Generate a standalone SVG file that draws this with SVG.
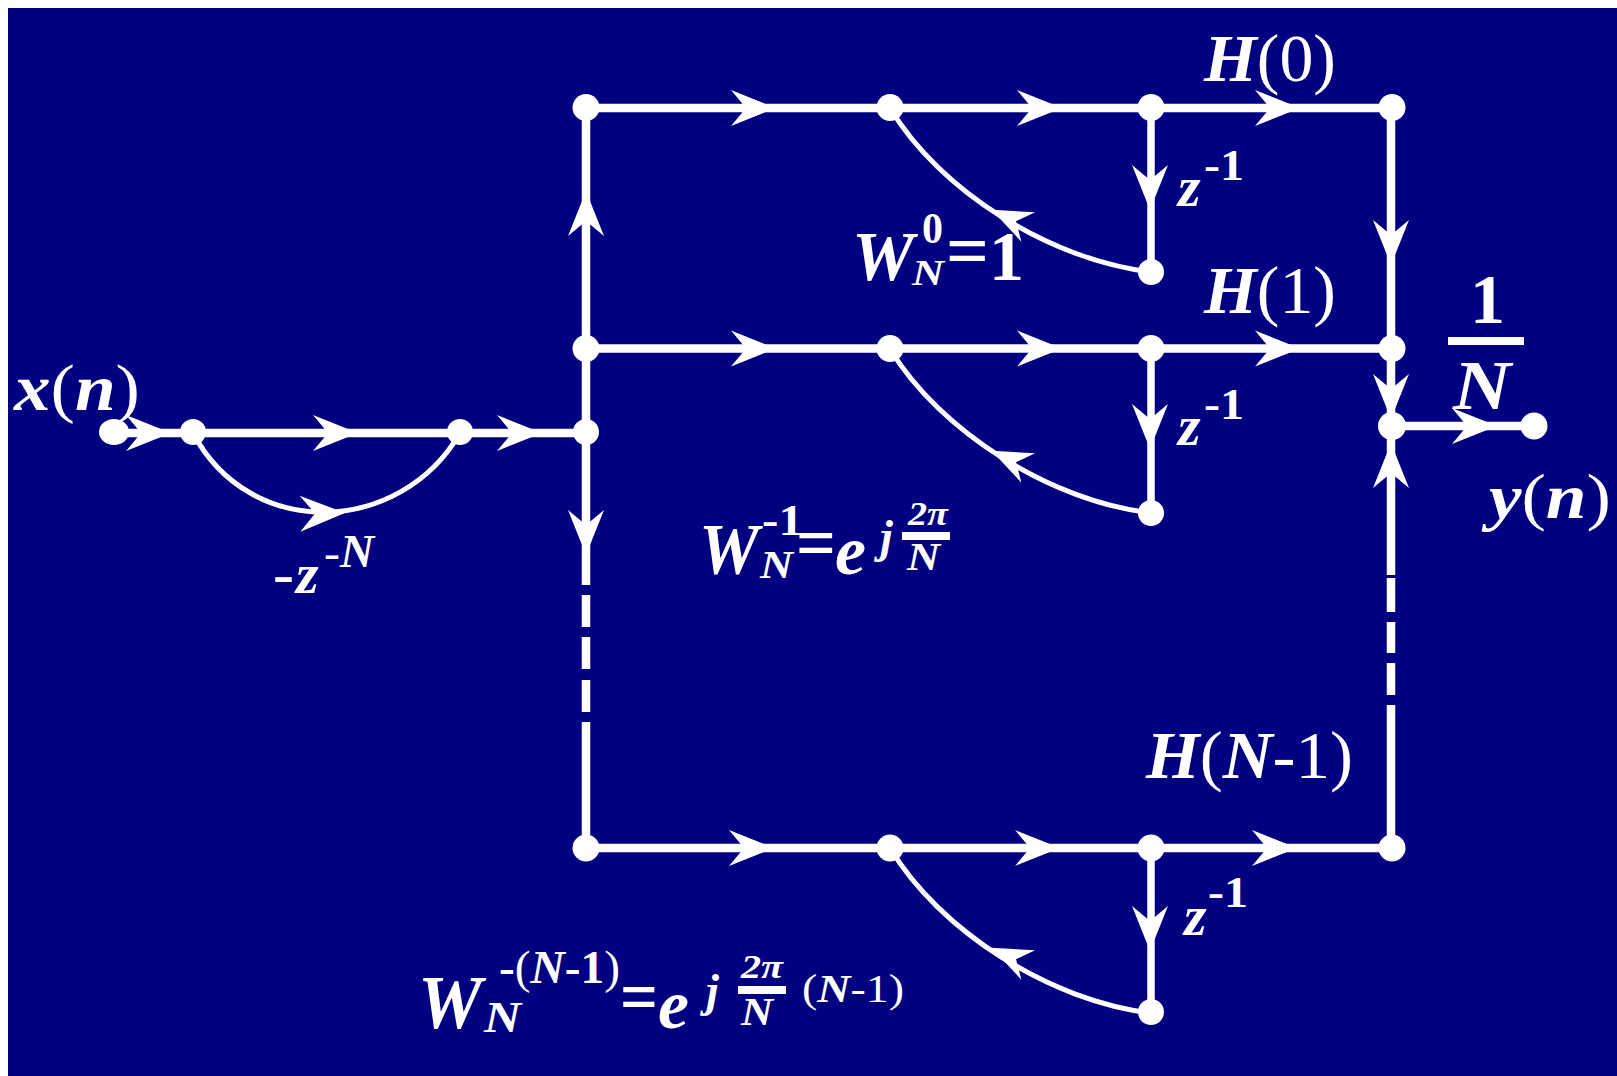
<svg xmlns="http://www.w3.org/2000/svg" width="1617" height="1076" viewBox="0 0 1617 1076">
<style>
.ln{fill:none;stroke:#fff;stroke-width:8.5}
.cv{fill:none;stroke:#fff;stroke-width:5}
.nd{fill:#fff}
text{font-family:"Liberation Serif","Times New Roman",serif;fill:#fff}
.i{font-style:italic;font-weight:bold}
.r{font-style:normal;font-weight:normal}
.b{font-weight:bold}
</style>
<defs>
<path id="ah" fill="#fff" d="M3,0 L-42,-18 L-27,0 L-42,18 Z"/>
</defs>
<rect width="1617" height="1076" fill="#fff"/>
<rect x="8" y="8" width="1609" height="1068" fill="#000080"/>
<g id="connectors">
<path class="ln" d="M111,433H586M586,108V585M586,595V627M586,637V669M586,680V712M586,722V848"/>
<path class="ln" d="M586,108H1392M586,348.500H1392M586,848H1392"/>
<path class="ln" d="M1391,108V575M1391,578V612M1391,622V653M1391,663V695M1391,705V848M1391,426H1534"/>
<path class="ln" style="stroke-width:7.500" d="M1151,108V272M1151,348V512M1151,848V1012"/>
<path class="cv" d="M193,433C250,541 400,536 460,433"/>
<path class="cv" d="M890,108C940,191 1050,260 1151,272M890,349C940,431 1050,501 1151,513M890,848C940,931 1050,1001 1151,1013"/>
<use href="#ah" transform="translate(168,433)"/>
<use href="#ah" transform="translate(355,433)"/>
<use href="#ah" transform="translate(539,433)"/>
<use href="#ah" transform="translate(342,513) rotate(-1)"/>
<use href="#ah" transform="translate(773,108)"/>
<use href="#ah" transform="translate(1059,108)"/>
<use href="#ah" transform="translate(1297,108)"/>
<use href="#ah" transform="translate(773,348.500)"/>
<use href="#ah" transform="translate(1059,348.500)"/>
<use href="#ah" transform="translate(1297,348.500)"/>
<use href="#ah" transform="translate(771,848)"/>
<use href="#ah" transform="translate(1057,848)"/>
<use href="#ah" transform="translate(1294,848)"/>
<use href="#ah" transform="translate(1494,426)"/>
<use href="#ah" transform="translate(586,194) rotate(-90)"/>
<use href="#ah" transform="translate(586,552) rotate(90)"/>
<use href="#ah" transform="translate(1150,207) rotate(90)"/>
<use href="#ah" transform="translate(1150,446) rotate(90)"/>
<use href="#ah" transform="translate(1150,948) rotate(90)"/>
<use href="#ah" transform="translate(1391,262) rotate(90)"/>
<use href="#ah" transform="translate(1391,416) rotate(90)"/>
<use href="#ah" transform="translate(1391,446) rotate(-90)"/>
<use href="#ah" transform="translate(994,211) rotate(205) scale(.9)"/>
<use href="#ah" transform="translate(994,452) rotate(205) scale(.9)"/>
<use href="#ah" transform="translate(994,949) rotate(205) scale(.9)"/>
</g>
<g id="nodes">
<g id="n-in"><ellipse class="nd" cx="114" cy="432" rx="15" ry="13"/></g>
<g id="n-a"><circle class="nd" cx="193" cy="432" r="13"/></g>
<g id="n-b"><circle class="nd" cx="460" cy="432" r="13"/></g>
<g id="n-j"><circle class="nd" cx="586" cy="432" r="13"/></g>
<g id="n-00"><circle class="nd" cx="586" cy="107.500" r="13.500"/></g>
<g id="n-01"><circle class="nd" cx="890" cy="107.500" r="13.500"/></g>
<g id="n-02"><circle class="nd" cx="1151" cy="107.500" r="13.500"/></g>
<g id="n-03"><circle class="nd" cx="1392" cy="107.500" r="13.500"/></g>
<g id="n-04"><circle class="nd" cx="1151" cy="272" r="13"/></g>
<g id="n-10"><circle class="nd" cx="586" cy="348.500" r="13.500"/></g>
<g id="n-11"><circle class="nd" cx="890" cy="348.500" r="13.500"/></g>
<g id="n-12"><circle class="nd" cx="1151" cy="348.500" r="13.500"/></g>
<g id="n-13"><circle class="nd" cx="1392" cy="348.500" r="13.500"/></g>
<g id="n-14"><circle class="nd" cx="1151" cy="513" r="13"/></g>
<g id="n-20"><circle class="nd" cx="586" cy="848" r="13.500"/></g>
<g id="n-21"><circle class="nd" cx="890" cy="848" r="13.500"/></g>
<g id="n-22"><circle class="nd" cx="1151" cy="848" r="13.500"/></g>
<g id="n-23"><circle class="nd" cx="1392" cy="848" r="13.500"/></g>
<g id="n-24"><circle class="nd" cx="1151" cy="1012" r="13"/></g>
<g id="n-sum"><circle class="nd" cx="1392" cy="426" r="14"/></g>
<g id="n-out"><circle class="nd" cx="1534" cy="426" r="13.500"/></g>
</g>
<g id="labels">
<text class="i" x="14" y="410" font-size="66" textLength="126" lengthAdjust="spacingAndGlyphs">x<tspan class="r">(</tspan>n<tspan class="r">)</tspan></text>
<text class="b" x="273" y="593" font-size="58" textLength="21" lengthAdjust="spacingAndGlyphs">-</text>
<text class="i" x="296" y="593" font-size="58">z</text>
<text class="b" x="324" y="567" font-size="42" textLength="16" lengthAdjust="spacingAndGlyphs">-</text>
<text class="i" x="340" y="567" font-size="46" textLength="34" lengthAdjust="spacingAndGlyphs">N</text>

<text class="i" x="1204" y="81" font-size="68" textLength="132" lengthAdjust="spacingAndGlyphs">H<tspan class="r">(0)</tspan></text>
<text class="i" x="1204" y="313" font-size="68" textLength="132" lengthAdjust="spacingAndGlyphs">H<tspan class="r">(1)</tspan></text>
<text class="i" x="1146" y="778" font-size="68" textLength="207" lengthAdjust="spacingAndGlyphs">H<tspan class="r">(</tspan>N<tspan class="r">-1)</tspan></text>

<text class="i" x="1178" y="206" font-size="58">z</text>
<text class="b" x="1204" y="180" font-size="44" textLength="40" lengthAdjust="spacingAndGlyphs">-1</text>
<text class="i" x="1178" y="445" font-size="58">z</text>
<text class="b" x="1204" y="419" font-size="44" textLength="40" lengthAdjust="spacingAndGlyphs">-1</text>
<text class="i" x="1184" y="935" font-size="58">z</text>
<text class="b" x="1208" y="907" font-size="44" textLength="40" lengthAdjust="spacingAndGlyphs">-1</text>

<text class="i" x="852" y="280" font-size="70" textLength="62" lengthAdjust="spacingAndGlyphs">W</text>
<text class="i" x="912" y="285" font-size="36" textLength="32" lengthAdjust="spacingAndGlyphs">N</text>
<text class="b" x="922" y="243" font-size="44" textLength="21" lengthAdjust="spacingAndGlyphs">0</text>
<text class="b" x="946" y="276" font-size="75" textLength="43" lengthAdjust="spacingAndGlyphs">=</text>
<text class="b" x="989" y="280" font-size="70">1</text>

<text class="b" x="1470" y="323" font-size="70">1</text>
<rect x="1448" y="337" width="76" height="8" fill="#fff"/>
<text class="i" x="1453" y="409" font-size="70" textLength="58" lengthAdjust="spacingAndGlyphs">N</text>
<text class="i" x="1489" y="518" font-size="64" textLength="122" lengthAdjust="spacingAndGlyphs">y<tspan class="r">(</tspan>n<tspan class="r">)</tspan></text>

<text class="i" x="699" y="573" font-size="72" textLength="60" lengthAdjust="spacingAndGlyphs">W</text>
<text class="i" x="760" y="578" font-size="40" textLength="33" lengthAdjust="spacingAndGlyphs">N</text>
<text class="b" x="762" y="535" font-size="44" textLength="41" lengthAdjust="spacingAndGlyphs">-1</text>
<text class="b" x="796" y="568" font-size="75" textLength="40" lengthAdjust="spacingAndGlyphs">=</text>
<text class="i" x="835" y="574" font-size="70">e</text>
<text class="i" x="880" y="552" font-size="46">j</text>
<text class="i" x="908" y="525" font-size="34" textLength="40" lengthAdjust="spacingAndGlyphs">2π</text>
<rect x="902" y="532" width="48" height="8" fill="#fff"/>
<text class="i" x="907" y="570" font-size="40" textLength="33" lengthAdjust="spacingAndGlyphs">N</text>

<text class="i" x="418" y="1028" font-size="76" textLength="64" lengthAdjust="spacingAndGlyphs">W</text>
<text class="i" x="484" y="1032" font-size="44" textLength="37" lengthAdjust="spacingAndGlyphs">N</text>
<text class="b" x="499" y="983" font-size="46" textLength="121" lengthAdjust="spacingAndGlyphs">-<tspan class="r">(</tspan><tspan font-style="italic">N</tspan>-1<tspan class="r">)</tspan></text>
<text class="b" x="620" y="1022" font-size="75" textLength="38" lengthAdjust="spacingAndGlyphs">=</text>
<text class="i" x="658" y="1028" font-size="70">e</text>
<text class="i" x="706" y="1006" font-size="46">j</text>
<text class="i" x="741" y="978" font-size="34" textLength="42" lengthAdjust="spacingAndGlyphs">2π</text>
<rect x="738" y="986" width="48" height="8" fill="#fff"/>
<text class="i" x="741" y="1025" font-size="40" textLength="32" lengthAdjust="spacingAndGlyphs">N</text>
<text x="802" y="1002" font-size="40" textLength="102" lengthAdjust="spacingAndGlyphs">(<tspan class="i">N</tspan>-1)</text>
</g>
</svg>
